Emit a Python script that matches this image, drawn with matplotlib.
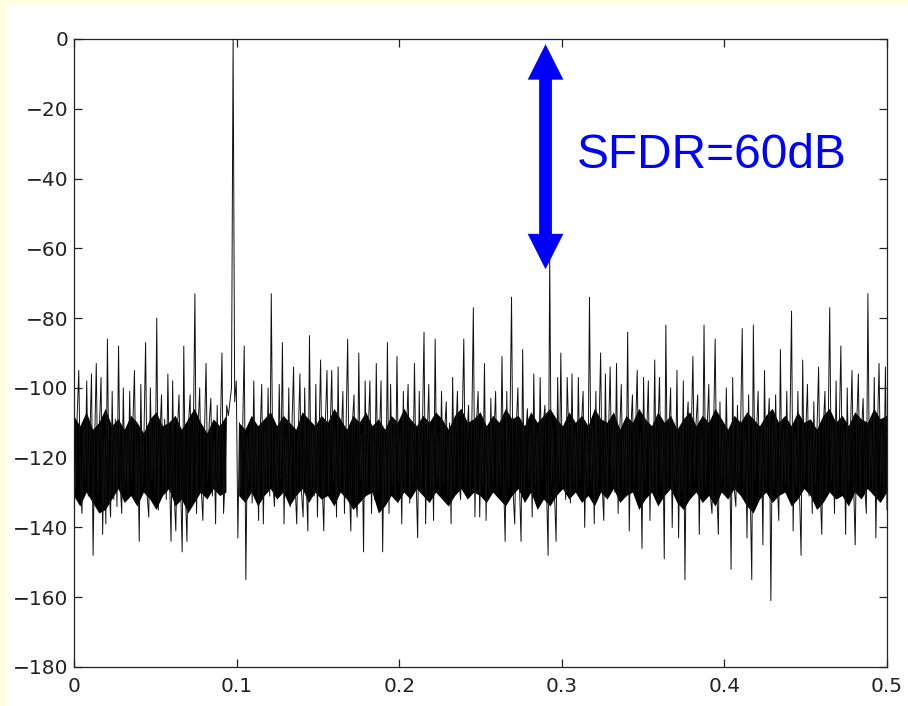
import numpy as np
import matplotlib
matplotlib.use("Agg")
import matplotlib.pyplot as plt
from matplotlib.patches import Rectangle, FancyArrowPatch

# ---- data: FFT magnitude (dB), 512 bins over 0..0.5 ----
spectrum_db = [
    -112, -129, -108, -95, -127, -136, -110, -126, -98, -131, -113, -96, -148, -115, -93, -130,
    -111, -97, -142, -114, -139, -86, -128, -137, -101, -132, -109, -134, -88, -127, -136, -100,
    -129, -112, -131, -101, -126, -110, -95, -133, -115, -144, -99, -128, -113, -87, -131, -137,
    -100, -127, -111, -130, -80, -135, -114, -102, -129, -109, -132, -96, -125, -144, -98, -131,
    -141, -112, -102, -128, -147, -88, -130, -144, -110, -102, -133, -114, -73, -136, -111, -100,
    -129, -138, -113, -93, -127, -110, -103, -131, -115, -139, -105, -128, -112, -90, -136, -126,
    -105, -108, -104, -100, 0, -104, -98, -143, -110, -130, -112, -88, -155, -114, -127, -109,
    -133, -98, -129, -111, -138, -113, -99, -139, -110, -128, -100, -131, -73, -127, -134, -112,
    -130, -99, -126, -87, -139, -114, -129, -100, -134, -111, -94, -128, -139, -113, -96, -130,
    -137, -100, -127, -141, -85, -129, -112, -131, -99, -137, -115, -92, -128, -141, -110, -95,
    -130, -113, -95, -127, -111, -137, -94, -129, -114, -101, -136, -112, -86, -128, -141, -110,
    -102, -131, -137, -90, -126, -113, -147, -98, -129, -112, -98, -136, -111, -132, -93, -130,
    -114, -98, -147, -112, -133, -87, -136, -99, -128, -110, -131, -91, -127, -113, -139, -101,
    -129, -112, -99, -133, -110, -128, -93, -126, -143, -101, -130, -112, -84, -139, -114, -99,
    -131, -111, -138, -86, -127, -113, -130, -101, -128, -112, -104, -131, -110, -139, -97, -129,
    -113, -101, -127, -132, -111, -86, -129, -114, -105, -130, -112, -77, -137, -110, -101, -137,
    -112, -128, -93, -138, -111, -130, -103, -127, -113, -101, -131, -110, -128, -91, -126, -144,
    -101, -129, -112, -74, -130, -139, -111, -100, -128, -144, -89, -130, -113, -106, -127, -111,
    -137, -96, -129, -112, -131, -97, -126, -110, -105, -129, -148, -63, -128, -112, -130, -144,
    -97, -127, -90, -129, -111, -132, -97, -114, -133, -96, -128, -112, -130, -97, -126, -110,
    -101, -140, -113, -129, -74, -127, -111, -139, -101, -130, -112, -90, -128, -138, -96, -131,
    -112, -94, -127, -110, -130, -93, -136, -113, -99, -129, -111, -131, -84, -141, -112, -102,
    -128, -111, -95, -130, -113, -146, -97, -127, -112, -98, -138, -111, -129, -92, -131, -113,
    -97, -128, -111, -149, -82, -129, -112, -100, -140, -110, -128, -95, -143, -112, -130, -98,
    -155, -111, -104, -129, -113, -91, -127, -110, -102, -142, -112, -130, -82, -128, -111, -99,
    -131, -136, -112, -86, -129, -142, -104, -127, -111, -130, -100, -128, -113, -152, -97, -129,
    -134, -105, -128, -111, -83, -130, -112, -143, -102, -129, -155, -82, -127, -113, -101, -131,
    -111, -145, -95, -128, -112, -103, -161, -110, -129, -102, -127, -138, -89, -130, -112, -128,
    -101, -129, -111, -78, -141, -113, -128, -101, -130, -148, -92, -127, -112, -99, -131, -110,
    -136, -104, -128, -112, -94, -129, -142, -111, -101, -130, -113, -77, -127, -110, -136, -98,
    -129, -112, -88, -130, -111, -142, -100, -128, -113, -95, -127, -145, -110, -96, -131, -112,
    -103, -128, -136, -73, -129, -111, -130, -97, -143, -112, -93, -128, -110, -131, -94, -135,
]
freq_max = 0.5

# ragged edges of the dense noise-floor core, 129 points over 0..0.5 (NaN = notch at the tone)
nan = np.nan
band_upper_db = [
    -108, -111, -107, -112, -110, -106, -111, -109, -112, -108, -110, -113, -109, -107, -111, -110,
    -108, -112, -109, -106, -110, -113, -109, -111, -108, nan, -110, -112, -108, -111, -109, -107,
    -111, -108, -110, -112, -107, -109, -111, -108, -110, -106, -109, -112, -108, -110, -107, -111,
    -109, -112, -108, -110, -106, -109, -111, -108, -110, -107, -109, -112, -108, -106, -110, -109,
    -107, -111, -108, -110, -106, -109, -108, -111, -107, -110, -108, -106, -109, -111, -107, -110,
    -108, -111, -106, -109, -110, -107, -112, -108, -110, -106, -109, -111, -107, -110, -108, -112,
    -109, -107, -111, -108, -110, -106, -109, -112, -108, -110, -107, -109, -111, -108, -106, -110,
    -108, -111, -107, -110, -109, -112, -108, -106, -110, -108, -111, -107, -109, -110, -106, -109,
    -108,
]
band_lower_db = [
    -131, -134, -130, -133, -136, -135, -132, -129, -133, -131, -134, -130, -132, -135, -131, -129,
    -134, -132, -136, -133, -130, -132, -129, -131, -130, nan, -131, -133, -130, -134, -131, -129,
    -132, -130, -134, -131, -129, -133, -130, -132, -131, -134, -130, -132, -135, -133, -131, -130,
    -136, -134, -131, -133, -130, -132, -129, -131, -133, -130, -132, -134, -131, -129, -132, -130,
    -131, -133, -130, -132, -134, -131, -129, -133, -130, -135, -132, -134, -131, -129, -132, -130,
    -133, -131, -134, -130, -132, -129, -133, -131, -130, -135, -132, -130, -134, -131, -129, -133,
    -135, -132, -130, -133, -131, -134, -130, -132, -129, -131, -134, -136, -132, -130, -133, -131,
    -130, -134, -132, -129, -131, -135, -133, -130, -132, -131, -134, -130, -132, -129, -131, -133,
    -130,
]

x_ticks = [0, 0.1, 0.2, 0.3, 0.4, 0.5]
x_tick_labels = ["0", "0.1", "0.2", "0.3", "0.4", "0.5"]
y_ticks = [-180, -160, -140, -120, -100, -80, -60, -40, -20, 0]

sfdr_label = "SFDR=60dB"
sfdr_x = 0.29
sfdr_top = -1.5
sfdr_bottom = -66.0
sfdr_head_db = 10.0  # arrow head length in dB

# ---- figure ----
W, H, DPI = 908, 706, 100
fig = plt.figure(figsize=(W / DPI, H / DPI), dpi=DPI, facecolor="white")

yellow = "#FFFFE1"
fig.patches.append(Rectangle((0, 0), 7 / W, 1, transform=fig.transFigure,
                             facecolor=yellow, edgecolor="none", zorder=0))
fig.patches.append(Rectangle((0, 1 - 5 / H), 1, 5 / H, transform=fig.transFigure,
                             facecolor=yellow, edgecolor="none", zorder=0))

ax = fig.add_axes([74 / W, 39 / H, 813 / W, 628 / H])
ax.set_facecolor("white")

band_freq = np.linspace(0, freq_max, len(band_upper_db))
ax.fill_between(band_freq, band_lower_db, band_upper_db, color="black", lw=0, zorder=2)
freq = np.linspace(0, freq_max, len(spectrum_db))
ax.plot(freq, spectrum_db, color="#111111", lw=0.7, zorder=3)

ax.set_xlim(0, 0.5)
ax.set_ylim(-180, 0)
ax.set_xticks(x_ticks)
ax.set_xticklabels(x_tick_labels)
ax.set_yticks(y_ticks)

for lab in ax.get_xticklabels() + ax.get_yticklabels():
    lab.set_fontfamily("DejaVu Sans")
    lab.set_fontsize(14.5)
    lab.set_color("#222222")

ax.tick_params(axis="both", direction="in", length=6, width=0.9, color="#222222",
               top=True, right=True)
ax.tick_params(axis="x", pad=7)
ax.tick_params(axis="y", pad=4)
for sp in ax.spines.values():
    sp.set_linewidth(0.9)
    sp.set_color("#222222")

# ---- SFDR annotation (two overlapping single-headed arrows -> one double arrow) ----
style = "simple,head_length=25.5,head_width=25.7,tail_width=8.9"
for start, end in ((sfdr_bottom + sfdr_head_db, sfdr_top),
                   (sfdr_top - sfdr_head_db, sfdr_bottom)):
    ax.add_patch(FancyArrowPatch((sfdr_x, start), (sfdr_x, end), arrowstyle=style,
                                 mutation_scale=1, shrinkA=0, shrinkB=0,
                                 color="#0000FF", lw=0, zorder=5))

ax.text(0.3093, -37.0, sfdr_label, color="#0000FF", fontsize=34.5,
        family="Liberation Sans", ha="left", va="baseline", zorder=6)

fig.savefig("out.png", dpi=DPI, facecolor=fig.get_facecolor())
